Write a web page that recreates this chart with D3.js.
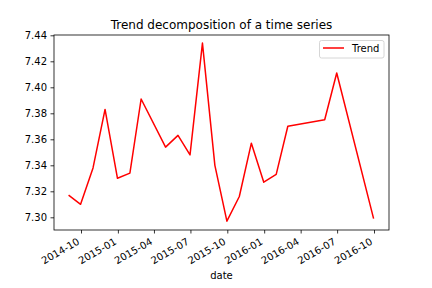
<!DOCTYPE html>
<html lang="en">
<head>
    <meta charset="UTF-8">
    <title>Trend decomposition</title>
    <script src="https://d3js.org/d3.v7.min.js"></script>
</head>
<style>
    body {
        margin: 0;
        padding: 0;
        background: white;
    }
    svg {
        font-family: "DejaVu Sans", sans-serif;
    }
</style>
<body>
<div class="chart"></div>
<script>
  /** DATA - trend values */
  var dates = ['2014-08-31', '2014-09-30', '2014-10-31', '2014-11-30', '2014-12-31',
    '2015-01-31', '2015-02-28', '2015-04-30', '2015-05-31', '2015-06-30',
    '2015-07-31', '2015-08-31', '2015-09-30', '2015-10-31', '2015-11-30',
    '2015-12-31', '2016-01-31', '2016-02-29', '2016-05-31', '2016-06-30',
    '2016-09-30'];
  var trend = [7.317, 7.310, 7.338, 7.383, 7.330,
    7.334, 7.391, 7.354, 7.363, 7.348,
    7.434, 7.340, 7.297, 7.316, 7.357,
    7.327, 7.333, 7.370, 7.375, 7.411,
    7.299];
  var yTicks = [7.30, 7.32, 7.34, 7.36, 7.38, 7.40, 7.42, 7.44];
  var xTicks = ['2014-10-01', '2015-01-01', '2015-04-01', '2015-07-01', '2015-10-01',
    '2016-01-01', '2016-04-01', '2016-07-01', '2016-10-01'];

  var parse = d3.timeParse('%Y-%m-%d');
  var points = dates.map(function (d, i) {
    return {date: parse(d), value: trend[i]};
  });

  /** LAYOUT (plot* names, since "top" is taken by window.top) */
  var width = 432, height = 288;
  var plotLeft = 54, plotRight = 389, plotTop = 35, plotBottom = 230;

  var svg = d3.select('.chart').append('svg')
    .attr('width', width)
    .attr('height', height);

  var x = d3.scaleTime()
    .domain([parse('2014-10-01'), parse('2016-10-01')])
    .range([81, 374]);

  var y = d3.scaleLinear()
    .domain([7.30, 7.44])
    .range([217.3, 35.3]);

  /** line */
  var line = d3.line()
    .x(function (d) { return x(d.date); })
    .y(function (d) { return y(d.value); });

  svg.append('path')
    .datum(points)
    .attr('d', line)
    .attr('fill', 'none')
    .attr('stroke', '#ff0000')
    .attr('stroke-width', 1.5)
    .attr('stroke-linejoin', 'round');

  /** y axis */
  var yAxis = d3.axisLeft(y)
    .tickValues(yTicks)
    .tickFormat(d3.format('.2f'))
    .tickSize(3.5)
    .tickPadding(3.5);
  var gy = svg.append('g')
    .attr('transform', 'translate(' + plotLeft + ',0)')
    .call(yAxis);
  gy.select('.domain').remove();
  gy.selectAll('line').attr('stroke', '#000').attr('stroke-width', 0.8);
  gy.selectAll('text')
    .attr('font-size', 10)
    .attr('font-family', 'DejaVu Sans')
    .attr('fill', '#000');

  /** x axis */
  var xAxis = d3.axisBottom(x)
    .tickValues(xTicks.map(parse))
    .tickFormat(d3.timeFormat('%Y-%m'))
    .tickSize(3.5)
    .tickPadding(3.5);
  var gx = svg.append('g')
    .attr('transform', 'translate(0,' + plotBottom + ')')
    .call(xAxis);
  gx.select('.domain').remove();
  gx.selectAll('line').attr('stroke', '#000').attr('stroke-width', 0.8);
  gx.selectAll('text')
    .attr('font-size', 10)
    .attr('font-family', 'DejaVu Sans')
    .attr('fill', '#000')
    .attr('text-anchor', 'end')
    .attr('y', 0)
    .attr('dy', 0)
    .attr('transform', 'translate(-1.2,13.6) rotate(-30)');

  /** frame */
  svg.append('rect')
    .attr('x', plotLeft)
    .attr('y', plotTop)
    .attr('width', plotRight - plotLeft)
    .attr('height', plotBottom - plotTop)
    .attr('fill', 'none')
    .attr('stroke', '#000')
    .attr('stroke-width', 0.8);

  /** title and label */
  svg.append('text')
    .attr('x', (plotLeft + plotRight) / 2)
    .attr('y', 29)
    .attr('text-anchor', 'middle')
    .attr('font-size', 12)
    .text('Trend decomposition of a time series');

  svg.append('text')
    .attr('x', (plotLeft + plotRight) / 2)
    .attr('y', 279)
    .attr('text-anchor', 'middle')
    .attr('font-size', 10)
    .text('date');

  /** legend */
  var legend = svg.append('g')
    .attr('transform', 'translate(319.5,40.5)');
  legend.append('rect')
    .attr('width', 64.5)
    .attr('height', 17.5)
    .attr('rx', 2)
    .attr('fill', 'white')
    .attr('fill-opacity', 0.8)
    .attr('stroke', '#cccccc')
    .attr('stroke-width', 0.8);
  legend.append('line')
    .attr('x1', 3.5).attr('x2', 24.5)
    .attr('y1', 7.5).attr('y2', 7.5)
    .attr('stroke', '#ff0000')
    .attr('stroke-width', 1.5);
  legend.append('text')
    .attr('x', 32.5)
    .attr('y', 11.5)
    .attr('font-size', 10)
    .text('Trend');
</script>
</body>
</html>
